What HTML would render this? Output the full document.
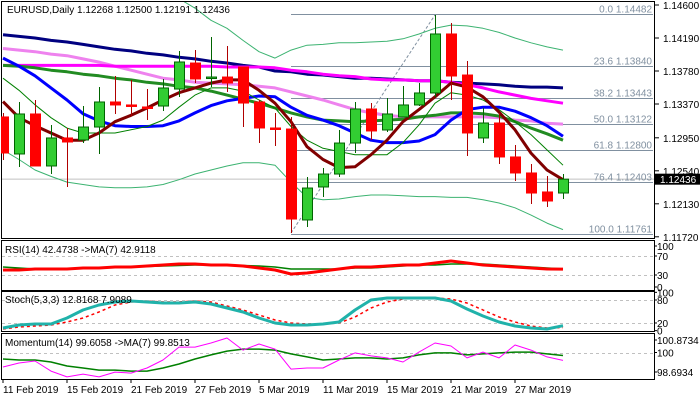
<!DOCTYPE html>
<html><head><meta charset="utf-8"><style>
html,body{margin:0;padding:0;background:#fff;}
svg{display:block;font-family:"Liberation Sans",sans-serif;}
</style></head><body>
<svg id="chart" width="700" height="400" viewBox="0 0 700 400" xmlns="http://www.w3.org/2000/svg">
<defs>
<clipPath id="mainClip"><rect x="1" y="2" width="653" height="236"/></clipPath>
<clipPath id="rsiClip"><rect x="1" y="241" width="653" height="49"/></clipPath>
<clipPath id="stClip"><rect x="1" y="292" width="653" height="39"/></clipPath>
<clipPath id="moClip"><rect x="1" y="334" width="653" height="45"/></clipPath>
</defs>
<rect x="0" y="0" width="700" height="400" fill="#fff"/>
<g id="main"></g>
<g id="rsi"></g>
<g id="stoch"></g>
<g id="mom"></g>
<g id="xaxis"></g>
</svg>
<script>
const opens=[1.13209,1.12749,1.13246,1.12600,1.12948,1.12923,1.13084,1.13395,1.13358,1.13333,1.13345,1.13556,1.13879,1.13693,1.13705,1.13830,1.13395,1.13072,1.13059,1.11929,1.12339,1.12500,1.12885,1.13308,1.13047,1.13209,1.13358,1.13507,1.14240,1.13730,1.12948,1.13134,1.12712,1.12513,1.12277,1.12264];
const highs=[1.13258,1.13395,1.13420,1.13109,1.13072,1.13345,1.13581,1.13718,1.13668,1.13556,1.13681,1.14028,1.14041,1.14202,1.14091,1.13830,1.13420,1.13258,1.13209,1.12463,1.12575,1.13047,1.13395,1.13382,1.13445,1.13594,1.13631,1.14476,1.14376,1.13904,1.13320,1.13258,1.12861,1.12625,1.12475,1.12500];
const lows=[1.12674,1.12587,1.12600,1.12500,1.12339,1.12885,1.12749,1.13246,1.13221,1.13171,1.13283,1.13457,1.13631,1.13581,1.13519,1.13084,1.12885,1.12848,1.11767,1.11842,1.12215,1.12463,1.12761,1.12923,1.13022,1.13209,1.13345,1.13457,1.13420,1.12724,1.12885,1.12625,1.12413,1.12128,1.12090,1.12190];
const closes=[1.12761,1.13246,1.12600,1.12948,1.12898,1.13084,1.13395,1.13358,1.13345,1.13320,1.13569,1.13892,1.13681,1.13705,1.13631,1.13382,1.13072,1.13059,1.11941,1.12326,1.12500,1.12885,1.13308,1.13035,1.13246,1.13358,1.13507,1.14240,1.13718,1.13010,1.13134,1.12712,1.12513,1.12264,1.12165,1.12436];
const maNavy=[1.1423,1.1421,1.1419,1.1416,1.1414,1.1411,1.1408,1.1405,1.1403,1.1400,1.1398,1.1395,1.1393,1.1390,1.1388,1.1385,1.1383,1.1378,1.1377,1.1374,1.1373,1.1371,1.1369,1.1369,1.1368,1.1367,1.1366,1.1366,1.1364,1.1363,1.1362,1.1361,1.1359,1.1358,1.1358,1.1357];
const maMagenta=[1.1385,1.1385,1.1385,1.1385,1.1385,1.1385,1.1385,1.1384,1.1384,1.1384,1.1384,1.1384,1.1384,1.1384,1.1383,1.1383,1.1383,1.1382,1.1379,1.1377,1.1374,1.1372,1.1371,1.1368,1.1367,1.1367,1.1366,1.1366,1.1364,1.1361,1.1357,1.1352,1.1348,1.1344,1.1341,1.1338];
const maPink=[1.1406,1.1404,1.1402,1.1399,1.1397,1.1393,1.1389,1.1384,1.1379,1.1374,1.1369,1.1367,1.1364,1.1363,1.1362,1.1361,1.1359,1.1357,1.1352,1.1347,1.1342,1.1336,1.1330,1.1326,1.1323,1.1321,1.1321,1.1321,1.1321,1.1321,1.1321,1.1320,1.1317,1.1316,1.1313,1.1312];
const maBlue=[1.1394,1.1384,1.1372,1.1357,1.1342,1.1325,1.1316,1.1310,1.1309,1.1309,1.1310,1.1316,1.1326,1.1335,1.1341,1.1344,1.1347,1.1346,1.1333,1.1323,1.1317,1.1310,1.1301,1.1292,1.1289,1.1289,1.1291,1.1299,1.1317,1.1330,1.1333,1.1333,1.1328,1.1320,1.1310,1.1297];
const maGreen=[1.1385,1.1384,1.1382,1.1379,1.1377,1.1374,1.1372,1.1369,1.1367,1.1364,1.1362,1.1359,1.1357,1.1353,1.1348,1.1343,1.1338,1.1332,1.1326,1.1321,1.1317,1.1316,1.1315,1.1316,1.1317,1.1318,1.1321,1.1323,1.1326,1.1326,1.1325,1.1322,1.1315,1.1307,1.1300,1.1292];
const maRed=[1.1340,1.1320,1.1310,1.1301,1.1292,1.1292,1.1301,1.1315,1.1323,1.1332,1.1342,1.1351,1.1357,1.1363,1.1367,1.1367,1.1354,1.1338,1.1315,1.1284,1.1268,1.1258,1.1259,1.1274,1.1292,1.1315,1.1330,1.1346,1.1363,1.1358,1.1346,1.1327,1.1305,1.1276,1.1255,1.1243];
const maThin=[1.1369,1.1354,1.1336,1.1320,1.1307,1.1301,1.1301,1.1301,1.1305,1.1309,1.1317,1.1333,1.1348,1.1357,1.1357,1.1353,1.1342,1.1332,1.1309,1.1292,1.1282,1.1278,1.1274,1.1274,1.1274,1.1289,1.1311,1.1338,1.1351,1.1348,1.1342,1.1330,1.1315,1.1299,1.1280,1.1261];
const bbUpper=[1.1503,1.1503,1.1503,1.1503,1.1503,1.1503,1.1503,1.1503,1.1503,1.1503,1.1503,1.1468,1.1456,1.1441,1.1431,1.1416,1.1402,1.1394,1.1404,1.1410,1.1411,1.1413,1.1413,1.1414,1.1415,1.1418,1.1424,1.1431,1.1435,1.1434,1.1431,1.1426,1.1419,1.1413,1.1408,1.1404];
const bbLower=[1.1280,1.1268,1.1255,1.1247,1.1240,1.1237,1.1234,1.1233,1.1233,1.1234,1.1237,1.1243,1.1250,1.1255,1.1260,1.1264,1.1264,1.1261,1.1240,1.1221,1.1218,1.1219,1.1222,1.1224,1.1224,1.1223,1.1222,1.1222,1.1221,1.1221,1.1218,1.1214,1.1208,1.1199,1.1189,1.1181];
const fibLevels=[0.0,23.6,38.2,50.0,61.8,76.4,100.0];
const fibPrices=[1.14482,1.13840,1.13443,1.13122,1.12800,1.12403,1.11761];
const priceTicks=[1.14600,1.14190,1.13780,1.13370,1.12950,1.12540,1.12130,1.11720];
const rsiVals=[40.5,40.5,42.6,42.6,42.6,44.7,44.7,46.8,46.8,48.9,51.1,53.2,53.2,51.1,51.1,48.9,44.7,40.5,32.1,34.2,38.4,42.6,46.8,46.8,48.9,51.1,51.1,55.3,59.5,55.3,51.1,48.9,46.8,44.7,42.6,42.47];
const rsiMa=[46.8,44.7,42.6,42.6,42.6,43.7,44.7,45.8,46.8,47.8,48.9,50.0,51.1,51.1,51.1,50.0,48.9,46.8,42.6,42.6,42.6,42.6,44.7,44.7,46.8,48.9,51.1,51.1,53.2,53.2,53.2,51.1,48.9,46.8,44.7,42.91];
const rsiTicks=[100,70,30,0];
const stochMain=[6.9,14.7,17.3,17.3,33.0,53.9,66.9,74.8,77.4,74.8,72.2,72.2,74.8,69.6,59.1,48.7,33.0,20.0,14.7,14.7,17.3,22.6,53.9,80.0,85.2,85.2,85.2,85.2,77.4,56.5,38.2,22.6,12.1,6.9,4.3,12.8];
const stochSignal=[4.3,9.5,12.1,14.7,22.6,33.0,48.7,66.9,74.8,77.4,74.8,74.8,77.4,74.8,64.3,53.9,40.8,27.8,20.0,17.3,17.3,20.0,35.6,59.1,74.8,82.6,85.2,85.2,82.6,72.2,53.9,35.6,22.6,12.1,6.9,7.9];
const stochTicks=[100,80,20,0];
const momVals=[99.28,99.48,99.58,99.08,98.79,98.93,98.79,99.03,98.98,99.23,99.63,100.27,100.27,100.47,100.72,100.12,100.42,100.17,99.18,99.23,99.23,99.63,99.98,99.83,99.73,99.53,100.02,100.47,100.32,99.73,100.02,99.73,100.37,100.12,99.78,99.61];
const momMa=[99.68,99.63,99.63,99.53,99.33,99.23,99.13,99.13,99.08,99.08,99.23,99.43,99.68,99.88,100.07,100.17,100.17,100.12,99.93,99.78,99.63,99.68,99.73,99.73,99.68,99.73,99.88,99.98,99.98,99.88,99.93,99.98,100.02,100.02,99.93,99.85];
const momTicks=[100.8734,100,98.6934];
const dateLabels=["11 Feb 2019","15 Feb 2019","21 Feb 2019","27 Feb 2019","5 Mar 2019","11 Mar 2019","15 Mar 2019","21 Mar 2019","27 Mar 2019"];
const dateIdx=[0,4,8,12,16,20,24,28,32];

const NS="http://www.w3.org/2000/svg";
const FS=10;
function mk(parent,tag,attrs){const e=document.createElementNS(NS,tag);for(const k in attrs)e.setAttribute(k,attrs[k]);parent.appendChild(e);return e;}
const xOf=i=>3+16*i;
const yP=p=>5+(1.146-p)*(33/0.0041);
const yRsi=v=>256+(70-v)*0.475;
const ySt=v=>300+(80-v)*0.383;
const yMo=v=>352.5-(v-100)*(44/2.18);

const main=document.getElementById('main');
function frame(g,y,h,name){const r=mk(g,'rect',{x:1.5,y:y+.5,width:653,height:h,fill:'none',stroke:'#000','stroke-width':1});

}
frame(main,1,237,'price-panel-frame');
let bl=mk(main,'line',{x1:2,x2:654,y1:yP(closes[35]),y2:yP(closes[35]),stroke:'#c0c0c0','stroke-width':1});


const fg=mk(main,'g',{'clip-path':'url(#mainClip)'});
fibPrices.forEach((p,k)=>{const y=Math.round(yP(p))+.5;
const l=mk(fg,'line',{x1:xOf(18),x2:653,y1:y,y2:y,stroke:'#8090a0','stroke-width':1});


const t=mk(main,'text',{x:652,y:y-2,'font-size':FS,fill:'#8090a0','text-anchor':'end'});
t.textContent=fibLevels[k].toFixed(1)+' '+p.toFixed(5);

});
let fd=mk(fg,'line',{x1:xOf(18),y1:yP(lows[18]),x2:xOf(27),y2:yP(highs[27]),stroke:'#8090a0','stroke-width':1,'stroke-dasharray':'3,2'});


function line(g,vals,yf,color,w,name,dash){const pts=vals.map((v,i)=>xOf(i)+','+yf(v).toFixed(1)).join(' ');
const a={points:pts,fill:'none',stroke:color,'stroke-width':w,'stroke-linejoin':'round'};if(dash)a['stroke-dasharray']=dash;
const e=mk(g,'polyline',a);

return e;}
const lg=mk(main,'g',{'clip-path':'url(#mainClip)'});
line(lg,bbUpper,yP,'#3cb371',1,'bollinger-upper');
line(lg,bbLower,yP,'#3cb371',1,'bollinger-lower');
line(lg,maPink,yP,'#ee82ee',3,'ma-violet');
line(lg,maNavy,yP,'#000080',3,'ma-navy');
line(lg,maMagenta,yP,'#ff00ff',3,'ma-magenta');
line(lg,maGreen,yP,'#228b22',3,'ma-green');
line(lg,maBlue,yP,'#0000ff',3,'ma-blue');
line(lg,maThin,yP,'#008000',1,'ma-thin-green');
line(lg,maRed,yP,'#800000',3,'ma-dark-red');
const cg=mk(main,'g',{'clip-path':'url(#mainClip)'});
closes.forEach((c,i)=>{const o=opens[i],up=c>=o,x=xOf(i);
const wc=up?'#006400':'#b00000';
const w=mk(cg,'line',{x1:x+.5,x2:x+.5,y1:yP(highs[i]),y2:yP(lows[i]),stroke:wc,'stroke-width':1});


const top=yP(Math.max(o,c)),bot=yP(Math.min(o,c));
const b=mk(cg,'rect',{x:x-4.5,y:top,width:10,height:Math.max(1.5,bot-top),fill:up?'#32cd32':'#ff0000',stroke:up?'#006400':'#ff0000','stroke-width':1});

});
priceTicks.forEach(p=>{const y=yP(p);
mk(main,'line',{x1:654,x2:659,y1:y,y2:y,stroke:'#000'});
const t=mk(main,'text',{x:663,y:y+4,'font-size':FS,fill:'#000'});t.textContent=p.toFixed(5);

});
const tag=mk(main,'rect',{x:655,y:yP(closes[35])-5.5,width:45,height:11,fill:'#000'});


const tt=mk(main,'text',{x:660,y:yP(closes[35])+4,'font-size':FS,fill:'#fff'});tt.textContent=closes[35].toFixed(5);


const hd=mk(main,'text',{x:7,y:13,'font-size':FS,fill:'#000'});
hd.textContent='EURUSD,Daily  1.12268 1.12500 1.12191 1.12436';



function dashLine(g,y,name){const l=mk(g,'line',{x1:2,x2:654,y1:Math.round(y)+.5,y2:Math.round(y)+.5,stroke:'#c0c0c0','stroke-dasharray':'3,3'});

}
function axisLbl(g,txt,y,name){const t=mk(g,'text',{x:657,y:y+4,'font-size':FS,fill:'#000'});t.textContent=txt;


mk(g,'line',{x1:654,x2:657,y1:y,y2:y,stroke:'#000'});}
function legend(g,txt,y,name){const t=mk(g,'text',{x:5,y:y,'font-size':FS,fill:'#000'});t.textContent=txt;

}

const rsi=document.getElementById('rsi');
frame(rsi,240,50,'rsi-frame');
dashLine(rsi,yRsi(70),'rsi-level-70');dashLine(rsi,yRsi(30),'rsi-level-30');
const rg=mk(rsi,'g',{'clip-path':'url(#rsiClip)'});
line(rg,rsiMa,yRsi,'#008000',1.5,'rsi-ma-line');
line(rg,rsiVals,yRsi,'#ff0000',3,'rsi-line');
rsiTicks.forEach(v=>axisLbl(rsi,String(v),Math.min(287,Math.max(246,yRsi(v))),'rsi-axis-label'));
legend(rsi,'RSI(14) 42.4738  ->MA(7) 42.9118',253,'rsi-legend');

const st=document.getElementById('stoch');
frame(st,291,40,'stoch-frame');
dashLine(st,ySt(80),'stoch-level-80');dashLine(st,ySt(20),'stoch-level-20');
const sg=mk(st,'g',{'clip-path':'url(#stClip)'});
line(sg,stochSignal,ySt,'#ff0000',1.5,'stoch-signal-line','3,3');
line(sg,stochMain,ySt,'#20b2aa',3,'stoch-main-line');
stochTicks.forEach(v=>axisLbl(st,String(v),ySt(v),'stoch-axis-label'));
legend(st,'Stoch(5,3,3) 12.8168 7.9089',303,'stoch-legend');

const mo=document.getElementById('mom');
frame(mo,333,46,'momentum-frame');
dashLine(mo,yMo(100),'momentum-level-100');
const mg=mk(mo,'g',{'clip-path':'url(#moClip)'});
line(mg,momMa,yMo,'#008000',1.5,'momentum-ma-line');
line(mg,momVals,yMo,'#ff00ff',1,'momentum-line');
momTicks.forEach((v,k)=>axisLbl(mo,String(v),[340,352.5,372][k],'momentum-axis-label'));
legend(mo,'Momentum(14) 99.6058  ->MA(7) 99.8513',346,'momentum-legend');

const xa=document.getElementById('xaxis');
dateLabels.forEach((d,k)=>{const x=xOf(dateIdx[k]);
mk(xa,'line',{x1:x,x2:x,y1:379,y2:383,stroke:'#000'});
const t=mk(xa,'text',{x:x,y:393,'font-size':FS,fill:'#000'});t.textContent=d;

});
</script>
</body></html>
